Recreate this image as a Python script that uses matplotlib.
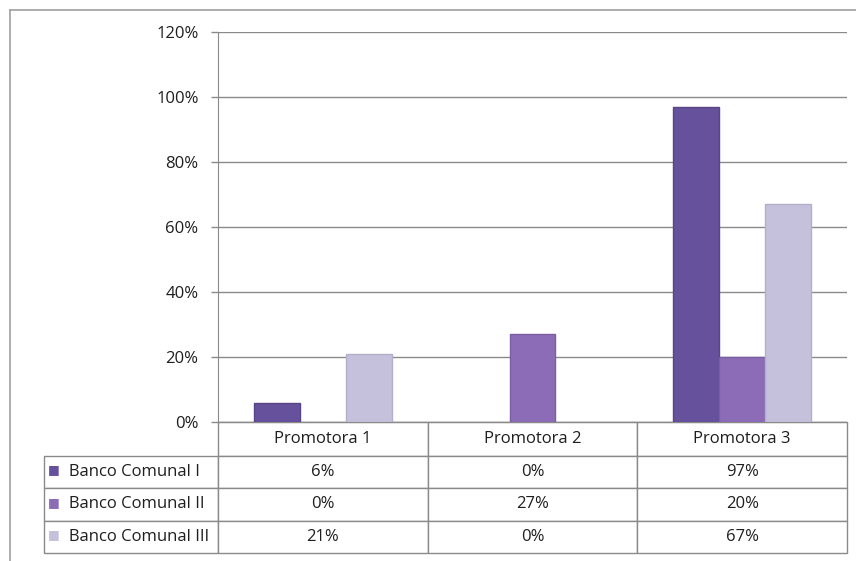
import matplotlib
matplotlib.use("Agg")
import matplotlib.pyplot as plt
from matplotlib.table import Table
from matplotlib.lines import Line2D
from matplotlib.ticker import PercentFormatter
import numpy as np

plt.rcParams["font.family"] = ["Open Sans", "DejaVu Sans"]

# ── datos ─────────────────────────────────────────────────────────────────────
categorias = ["Promotora 1", "Promotora 2", "Promotora 3"]
series = ["Banco Comunal I", "Banco Comunal II", "Banco Comunal III"]
banco_1 = [0.06, 0.00, 0.97]
banco_2 = [0.00, 0.27, 0.20]
banco_3 = [0.21, 0.00, 0.67]
valores = [banco_1, banco_2, banco_3]

colores = ["#66519C", "#8C6CB6", "#C5C0DB"]
bordes = ["#574586", "#7B5EA2", "#B4AECB"]
GRID = "#8A8A8A"
TXT = "#1E1E1E"
FS = 12

W, H = 856, 561
fig = plt.figure(figsize=(W / 100, H / 100), dpi=100, facecolor="white")

# área de trazado en píxeles
x0, x1 = 218, 847
y_top, y_bot = 32, 422
ax = fig.add_axes([x0 / W, 1 - y_bot / H, (x1 - x0) / W, (y_bot - y_top) / H])

# ── barras ────────────────────────────────────────────────────────────────────
x = np.arange(len(categorias))
ancho = 46 / 210
for i, vals in enumerate(valores):
    v = np.array(vals)
    # las barras en 0% no llevan borde
    ax.bar(x + (i - 1) * ancho, v, width=ancho, color=colores[i],
           edgecolor=bordes[i], linewidth=np.where(v > 0, 1.0, 0.0), zorder=3)

ax.set_xlim(-0.5, len(categorias) - 0.5)
ax.set_ylim(0, 1.2)
ax.set_yticks(np.arange(0, 1.21, 0.2))
ax.yaxis.set_major_formatter(PercentFormatter(1.0, decimals=0))
ax.yaxis.grid(True, color=GRID, linewidth=1.0, zorder=0)
ax.set_axisbelow(True)
ax.set_xticks([])
ax.tick_params(axis="y", length=5, width=1, color=GRID, pad=9,
               labelsize=FS, labelcolor=TXT)
for s in ["top", "right"]:
    ax.spines[s].set_visible(False)
ax.spines["left"].set_color(GRID)
ax.spines["bottom"].set_color(GRID)

# ── tabla de datos ────────────────────────────────────────────────────────────
# el bbox de Table cubre solo las celdas de datos; la columna de rótulos
# (col -1) queda a la izquierda del área de trazado
t_left = 44
lab_w = (x0 - t_left) / (x1 - x0)
col_w = 1.0 / len(categorias)
h_head = 34
h_fila = 32.3
t_bottom = y_bot + h_head + h_fila * len(series)
alto_ejes = y_bot - y_top

tbl = Table(ax, bbox=[0, -(t_bottom - y_bot) / alto_ejes,
                      1, (t_bottom - y_bot) / alto_ejes])
for c, cat in enumerate(categorias):
    tbl.add_cell(0, c, width=col_w, height=h_head, text=cat, loc="center")
for r, (nombre, vals) in enumerate(zip(series, valores)):
    tbl.add_cell(r + 1, -1, width=lab_w, height=h_fila,
                 text="     " + nombre, loc="left")
    for c, v in enumerate(vals):
        tbl.add_cell(r + 1, c, width=col_w, height=h_fila,
                     text=f"{v * 100:.0f}%", loc="center")
tbl.auto_set_font_size(False)
tbl.set_fontsize(FS)
for cell in tbl.get_celld().values():
    cell.set_edgecolor(GRID)
    cell.set_linewidth(1.0)
    cell.get_text().set_color(TXT)
    cell.PAD = 0.02
ax.add_table(tbl)

# claves de leyenda dentro de la tabla
for r, col in enumerate(colores):
    yc = y_bot + h_head + h_fila * (r + 0.5)
    ax.text((t_left + 10 - x0) / (x1 - x0), -(yc - y_bot) / alto_ejes + 0.006, "■",
            transform=ax.transAxes, color=col, fontsize=9,
            ha="center", va="center", family=["DejaVu Sans"])

# marco exterior del gráfico
fig.add_artist(Line2D([10 / W, 1], [1 - 10 / H, 1 - 10 / H], color="#A0A0A0",
                      linewidth=1.2, transform=fig.transFigure))
fig.add_artist(Line2D([10 / W, 10 / W], [0, 1 - 10 / H], color="#A0A0A0",
                      linewidth=1.2, transform=fig.transFigure))

fig.savefig("out.png", dpi=100, facecolor="white")
